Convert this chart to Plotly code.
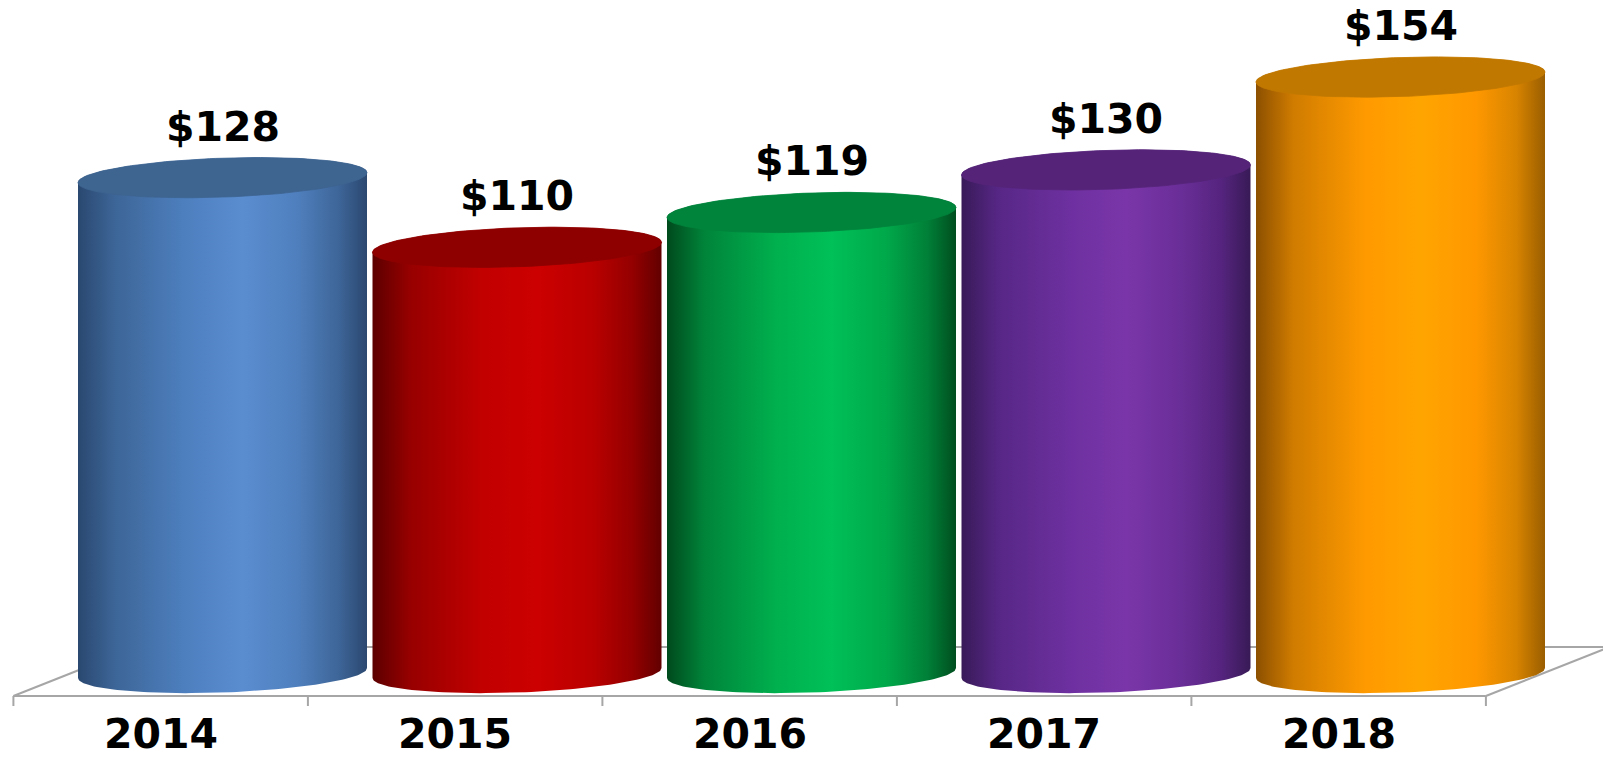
import numpy as np
import plotly.graph_objects as go

# ---------------- data ----------------
years = ["2014", "2015", "2016", "2017", "2018"]
values = [128, 110, 119, 130, 154]
value_labels = ["$128", "$110", "$119", "$130", "$154"]

side_scales = [
    ["#2a4870", "#3d6698", "#4e80c0", "#5a8dd0", "#4f7fbd", "#3e6699", "#2b4870"],
    ["#5c0000", "#970000", "#c20000", "#cc0000", "#ba0000", "#940000", "#620000"],
    ["#004a1c", "#00843a", "#00b04e", "#00c058", "#00a84a", "#008038", "#004e1e"],
    ["#381a58", "#572786", "#6e30a0", "#7a36a8", "#6a2e98", "#55247e", "#381a56"],
    ["#8c5000", "#d07c00", "#ff9a00", "#ffa500", "#ff9800", "#d88400", "#9a5e00"],
]
stops = [0.0, 0.13, 0.38, 0.57, 0.76, 0.9, 1.0]
top_colors = ["#3e6490", "#8e0000", "#00843c", "#552479", "#c17800"]

# ---------------- geometry (pixels -> axis units) ----------------
W, H = 1603, 760
SPACING_PX = 294.5
FIRST_PX = 222.5
ZERO_PX = 673.0
PX_PER_UNIT = 3.87

x_lo = -FIRST_PX / SPACING_PX
x_hi = x_lo + W / SPACING_PX
y_hi = ZERO_PX / PX_PER_UNIT
y_lo = -(H - ZERO_PX) / PX_PER_UNIT

A = 144.5 / SPACING_PX      # ellipse half width
B = 19.5 / PX_PER_UNIT      # ellipse half height
S = 5.0 / PX_PER_UNIT       # perspective tilt
DEPTH = 0.21                # floor depth offset (category units)
FRONT_Y = (ZERO_PX - 696) / PX_PER_UNIT
BACK_Y = (ZERO_PX - 647) / PX_PER_UNIT
TICK_LEN = 10 / PX_PER_UNIT
YEAR_Y = (ZERO_PX - 734) / PX_PER_UNIT


def ellipse(cx, cy, t):
    return cx + A * np.cos(t), cy + B * np.sin(t) + S * np.cos(t)


fig = go.Figure()
label_font = dict(family="DejaVu Sans", size=41, color="black", weight="bold")

for i, v in enumerate(values):
    cx = i
    tf = np.linspace(np.pi, 2 * np.pi, 80)
    tb = np.linspace(0, np.pi, 80)
    bx, by = ellipse(cx, 0, tf)
    tx, ty = ellipse(cx, v, tb)
    xs = np.concatenate([bx, tx, bx[:1]])
    ys = np.concatenate([by, ty, by[:1]])
    cs = [[s, c] for s, c in zip(stops, side_scales[i])]
    fig.add_trace(go.Scatter(
        x=xs, y=ys, mode="lines", fill="toself",
        line=dict(width=0, color=side_scales[i][3]),
        fillgradient=dict(type="horizontal", colorscale=cs,
                          start=cx - A, stop=cx + A),
        hoverinfo="skip", showlegend=False,
    ))
    t = np.linspace(0, 2 * np.pi, 160)
    ex, ey = ellipse(cx, v, t)
    fig.add_trace(go.Scatter(
        x=ex, y=ey, mode="lines", fill="toself",
        line=dict(width=0.8, color=top_colors[i]),
        fillcolor=top_colors[i],
        hoverinfo="skip", showlegend=False,
    ))
    fig.add_annotation(
        x=cx, y=v, yshift=51, text=value_labels[i], showarrow=False,
        font=label_font, xanchor="center", yanchor="middle",
    )
    fig.add_annotation(
        x=cx - DEPTH, y=YEAR_Y, text=years[i], showarrow=False,
        font=label_font, xanchor="center", yanchor="middle",
    )

# floor / axis lines
n = len(years)
line_style = dict(color="#a6a6a6", width=2)
left_front = -0.5 - DEPTH
right_front = n - 0.5 - DEPTH
shapes = [
    dict(type="line", x0=left_front, y0=FRONT_Y, x1=right_front, y1=FRONT_Y),
    dict(type="line", x0=-0.5 + DEPTH, y0=BACK_Y, x1=n - 0.5 + DEPTH, y1=BACK_Y),
    dict(type="line", x0=left_front, y0=FRONT_Y, x1=-0.5 + DEPTH, y1=BACK_Y),
    dict(type="line", x0=right_front, y0=FRONT_Y, x1=n - 0.5 + DEPTH, y1=BACK_Y),
]
for k in range(n + 1):
    xt = k - 0.5 - DEPTH
    shapes.append(dict(type="line", x0=xt, y0=FRONT_Y, x1=xt, y1=FRONT_Y - TICK_LEN))
for s in shapes:
    s.update(xref="x", yref="y", layer="below", line=line_style)

fig.update_layout(
    width=W, height=H,
    margin=dict(l=0, r=0, t=0, b=0),
    paper_bgcolor="white", plot_bgcolor="white",
    shapes=shapes,
    xaxis=dict(range=[x_lo, x_hi], visible=False, fixedrange=True),
    yaxis=dict(range=[y_lo, y_hi], visible=False, fixedrange=True),
    hovermode=False,
    showlegend=False,
)

fig.write_html(
    "out.html",
    config={"displayModeBar": False},
    post_script="document.body.style.margin='0';document.body.style.overflow='hidden';",
)
